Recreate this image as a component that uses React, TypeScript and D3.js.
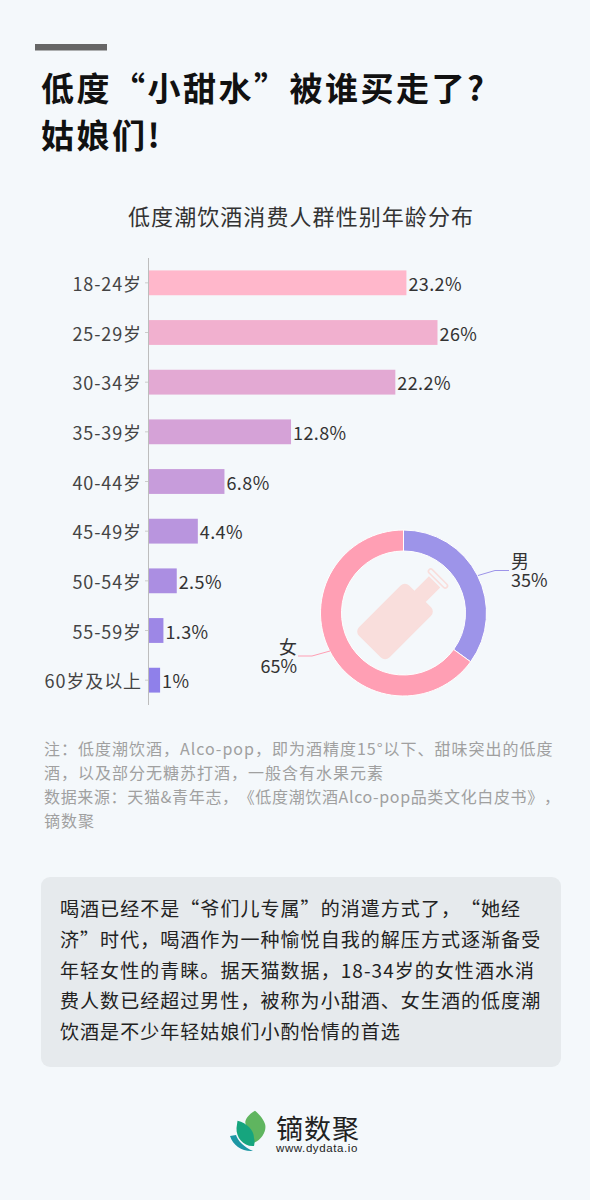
import React from "react";
import * as d3 from "d3";

const ageGroups = ["18-24岁", "25-29岁", "30-34岁", "35-39岁", "40-44岁", "45-49岁", "50-54岁", "55-59岁", "60岁及以上"];
const ageValues = [23.2, 26, 22.2, 12.8, 6.8, 4.4, 2.5, 1.3, 1];
const genderLabels = ["男", "女"];
const genderValues = [35, 65];
const genderColors = ["#9D94E9", "#FF9FB4"];
const titleLines = ["低度“小甜水”被谁买走了?", "姑娘们!"];
const chartTitle = "低度潮饮酒消费人群性别年龄分布";
const noteLines = [
  "注\uFF1A低度潮饮酒\uFF0CAlco-pop\uFF0C即为酒精度15°以下、甜味突出的低度",
  "酒\uFF0C以及部分无糖苏打酒\uFF0C一般含有水果元素",
  "数据来源\uFF1A天猫&青年志\uFF0C《低度潮饮酒Alco-pop品类文化白皮书》\uFF0C",
  "镝数聚",
];
const noteTracking = [1, 1, 0.65, 1];
const bodyLines = [
  "喝酒已经不是“爷们儿专属”的消遣方式了\uFF0C“她经",
  "济”时代\uFF0C喝酒作为一种愉悦自我的解压方式逐渐备受",
  "年轻女性的青睐。据天猫数据\uFF0C18-34岁的女性酒水消",
  "费人数已经超过男性\uFF0C被称为小甜酒、女生酒的低度潮",
  "饮酒是不少年轻姑娘们小酌怡情的首选",
];

const CJK = "'Noto Sans CJK SC', sans-serif";
const FONT = "LatinText, 'Noto Sans CJK SC', sans-serif";
const BG = "#F4F8FB";
const FONT_CSS = "@font-face{font-family:LatinText;src:local('Noto Sans');unicode-range:U+20-7E;}";

export default function App() {
  const x = d3.scaleLinear().domain([0, 26]).range([149, 437.5]);
  const y = d3.scaleBand<string>().domain(ageGroups).range([258, 705]).paddingInner(0.5).paddingOuter(0.25);
  const color = d3
    .scaleLinear<string>()
    .domain([0, ageGroups.length - 1])
    .range(["#FFB7CB", "#8F80EA"])
    .interpolate(d3.interpolateRgb);

  const cx = 403.5;
  const cy = 613;
  const pie = d3.pie<number>().sort(null)(genderValues);
  const arc = d3.arc<d3.PieArcDatum<number>>().innerRadius(62).outerRadius(83);

  return (
    <svg
      width={590}
      height={1200}
      viewBox="0 0 590 1200"
      style={{ position: "absolute", left: 0, top: 0, background: BG, fontFamily: FONT, textSpacingTrim: "space-all" } as React.CSSProperties}
    >
      <style>{FONT_CSS}</style>
      <rect width={590} height={1200} fill={BG} />
      <rect x={35} y={44} width={72} height={6.5} fill="#666666" />
      {titleLines.map((t, i) => (
        <text key={t} x={41} y={100.5 + i * 47.5} fontSize={33} fontWeight={700} fill="#111" letterSpacing={2.5} fontFamily={CJK}>
          {t}
        </text>
      ))}
      <text x={128} y={225} fontSize={22} fill="#333" letterSpacing={1.07}>
        {chartTitle}
      </text>

      {/* Bars */}
      <line x1={148.5} x2={148.5} y1={258} y2={705} stroke="#BDBDBD" strokeWidth={1} />
      {ageGroups.map((g, i) => {
        const by = y(g)!;
        const bh = y.bandwidth();
        const mid = by + bh / 2;
        return (
          <g key={g}>
            <line x1={145} x2={148} y1={mid} y2={mid} stroke="#CCCCCC" />
            <text x={142} y={mid + 8} fontSize={18} textAnchor="end" fill="#444" letterSpacing={0.9}>
              {g}
            </text>
            <rect x={x(0)} y={by} width={x(ageValues[i]) - x(0)} height={bh} fill={color(i)} />
            <text x={x(ageValues[i]) + 2} y={mid + 8} fontSize={18} fill="#333" letterSpacing={0.4}>
              {ageValues[i] + "%"}
            </text>
          </g>
        );
      })}

      {/* Donut */}
      <g transform={`translate(${cx},${cy})`}>
        {pie.map((d, i) => (
          <path key={i} d={arc(d)!} fill={genderColors[i]} stroke="#fff" strokeWidth={1} />
        ))}
        {/* bottle */}
        <g transform="rotate(45)" fill="#F9DEDC">
          <rect x={-21.5} y={-23.5} width={43} height={71} rx={6} />
          <rect x={-8} y={-44} width={16} height={22} />
          <rect x={-12.5} y={-51} width={25} height={4.5} rx={2.2} fill={BG} stroke="#F9DEDC" strokeWidth={1.6} />
        </g>
      </g>
      <polyline points="478,575.5 495,570.5 509,570.5" fill="none" stroke="#9D94E9" />
      <polyline points="330,651 312,656 298,656" fill="none" stroke="#FF9FB4" />
      <text x={511} y={568} fontSize={18} fill="#333">{genderLabels[0]}</text>
      <text x={511} y={586.5} fontSize={18} fill="#333">{genderValues[0] + "%"}</text>
      <text x={297} y={654} fontSize={18} textAnchor="end" fill="#333">{genderLabels[1]}</text>
      <text x={297} y={672.5} fontSize={18} textAnchor="end" fill="#333">{genderValues[1] + "%"}</text>

      {/* Notes */}
      {noteLines.map((t, i) => (
        <text key={i} x={44} y={755 + i * 24} fontSize={16} fill="#A0A0A0" letterSpacing={noteTracking[i]}>
          {t}
        </text>
      ))}

      {/* Text box */}
      <rect x={41} y={877} width={520} height={190} rx={9} fill="#E6EAED" />
      {bodyLines.map((t, i) => (
        <text key={i} x={60} y={916 + i * 30.8} fontSize={19} fill="#222" letterSpacing={1.05}>
          {t}
        </text>
      ))}

      {/* Logo */}
      <g>
        <path d="M255 1110.7 C246 1116 244 1122 246 1125 C251 1131 254 1138 253 1143 C262 1140 267 1130 265 1124 C263 1118 258 1113 255 1110.7Z" fill="#5FB55F" />
        <path d="M237.5 1120.7 C247 1123 254 1130 254 1138 C255 1141 254.5 1144 254 1146 C244 1147 236 1138 236.5 1128Z" fill="#16A57E" />
        <path d="M230 1136 L236 1135 C238 1141 244 1147 253 1151 C243 1152 233 1146 230 1136Z" fill="#1C97A4" />
        <text x={276} y={1139} fontSize={27} fill="#222" letterSpacing={1}>镝数聚</text>
        <text x={276} y={1152} fontSize={11.5} fill="#222" fontFamily="'Liberation Sans', sans-serif" letterSpacing={0.6}>
          www.dydata.io
        </text>
      </g>
    </svg>
  );
}
